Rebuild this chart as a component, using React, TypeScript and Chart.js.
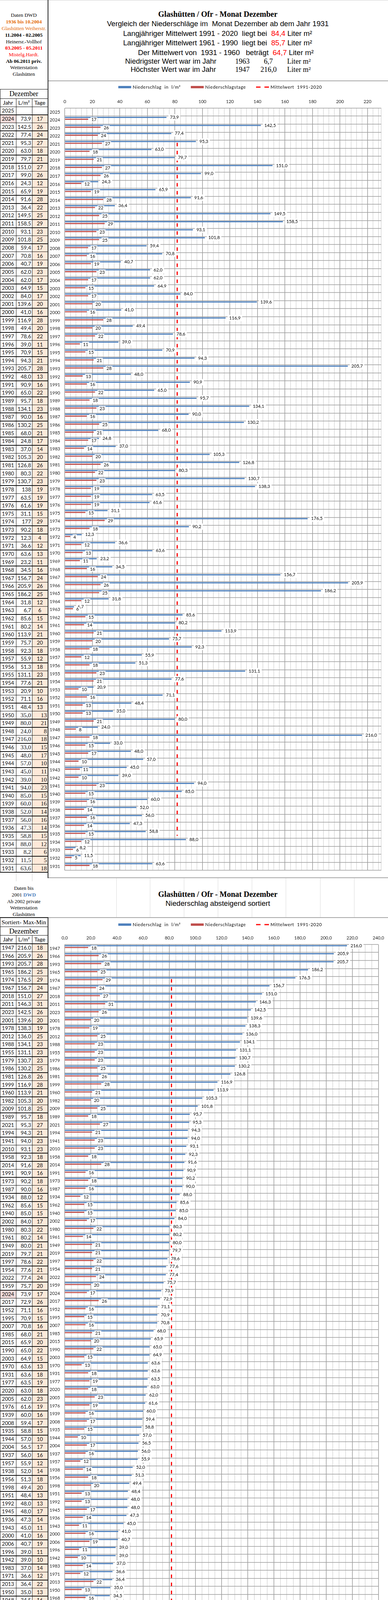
import React, { useEffect, useRef } from 'react';
import { Chart, registerables } from 'chart.js';

Chart.register(...registerables);

if (typeof document !== 'undefined') {
  document.body.style.margin = '0';
}

// ---------------- DATA ----------------
const topYears = [
  2025, 2024, 2023, 2022, 2021, 2020, 2019, 2018, 2017, 2016, 2015, 2014, 2013, 2012, 2011, 2010,
  2009, 2008, 2007, 2006, 2005, 2004, 2003, 2002, 2001, 2000, 1999, 1998, 1997, 1996, 1995, 1994,
  1993, 1992, 1991, 1990, 1989, 1988, 1987, 1986, 1985, 1984, 1983, 1982, 1981, 1980, 1979, 1978,
  1977, 1976, 1975, 1974, 1973, 1972, 1971, 1970, 1969, 1968, 1967, 1966, 1965, 1964, 1963, 1962,
  1961, 1960, 1959, 1958, 1957, 1956, 1955, 1954, 1953, 1952, 1951, 1950, 1949, 1948, 1947, 1946,
  1945, 1944, 1943, 1942, 1941, 1940, 1939, 1938, 1937, 1936, 1935, 1934, 1933, 1932, 1931,
];
const topPrecip: (number | null)[] = [
  null, 73.9, 142.5, 77.4, 95.3, 63.0, 79.7, 151.0, 99.0, 24.3, 65.9, 91.6, 36.4, 149.5, 158.5, 93.1,
  101.8, 59.4, 70.8, 40.7, 62.0, 62.0, 64.9, 84.0, 139.6, 41.0, 116.9, 49.4, 78.6, 39.0, 70.9, 94.3,
  205.7, 48.0, 90.9, 65.0, 95.7, 134.1, 90.0, 130.2, 68.0, 24.8, 37.0, 105.3, 126.8, 80.3, 130.7, 138.3,
  63.5, 61.6, 31.1, 176.5, 90.2, 12.3, 36.6, 63.6, 23.2, 34.5, 156.7, 205.9, 186.2, 31.8, 6.7, 85.6,
  80.2, 113.9, 75.7, 92.3, 55.9, 51.3, 131.1, 77.6, 20.9, 71.1, 48.4, 35.0, 80.0, 24.0, 216.0, 33.0,
  48.0, 57.0, 45.0, 39.0, 94.0, 85.0, 60.0, 52.0, 56.0, 47.3, 58.8, 88.0, 8.2, 11.5, 63.6,
];
const topDays: (number | null)[] = [
  null, 17, 26, 24, 27, 18, 21, 27, 26, 12, 19, 28, 22, 25, 29, 23,
  25, 17, 16, 19, 23, 17, 15, 17, 20, 16, 28, 20, 22, 11, 15, 21,
  28, 13, 16, 22, 18, 23, 16, 25, 21, 17, 14, 20, 26, 22, 23, 19,
  19, 19, 15, 29, 18, 4, 12, 13, 11, 16, 24, 26, 25, 12, 6, 15,
  14, 21, 20, 18, 12, 18, 23, 21, 10, 16, 13, 13, 21, 8, 18, 15,
  17, 10, 11, 10, 23, 15, 16, 14, 16, 14, 15, 12, 6, 5, 18,
];
// years whose table entry is shown rounded to whole litres
const topTableRounded = [1978, 1974];

const sortedYears = [
  1947, 1966, 1993, 1965, 1974, 1967, 2018, 2011, 2023, 2001, 1978, 2012, 1988, 1955, 1979, 1986,
  1981, 1999, 1960, 1982, 2009, 1989, 2021, 1994, 1941, 2010, 1958, 2014, 1991, 1973, 1987, 1934,
  1962, 1940, 2002, 1980, 1961, 1949, 2019, 1997, 1954, 2022, 1959, 2024, 2017, 1952, 1995, 2007,
  1985, 2015, 1990, 2003, 1970, 1931, 1977, 2020, 2005, 1976, 1939, 2008, 1935, 1944, 2004, 1937,
  1957, 1938, 1956, 1998, 1951, 1992, 1945, 1936, 1943, 2000, 2006, 1996, 1942, 1983, 1971, 2013,
  1950, 1968, 1946, 1964, 1975, 1984, 2016, 1948, 1969, 1953, 1972, 1932, 1933, 1963, 2025,
];
const sortedPrecip: (number | null)[] = [
  216.0, 205.9, 205.7, 186.2, 176.5, 156.7, 151.0, 146.3, 142.5, 139.6, 138.3, 136.0, 134.1, 131.1, 130.7, 130.2,
  126.8, 116.9, 113.9, 105.3, 101.8, 95.7, 95.3, 94.3, 94.0, 93.1, 92.3, 91.6, 90.9, 90.2, 90.0, 88.0,
  85.6, 85.0, 84.0, 80.3, 80.2, 80.0, 79.7, 78.6, 77.6, 77.4, 75.7, 73.9, 72.9, 71.1, 70.9, 70.8,
  68.0, 65.9, 65.0, 64.9, 63.6, 63.6, 63.5, 63.0, 62.0, 61.6, 60.0, 59.4, 58.8, 57.0, 56.5, 56.0,
  55.9, 52.0, 51.3, 49.4, 48.4, 48.0, 48.0, 47.3, 45.0, 41.0, 40.7, 39.0, 39.0, 37.0, 36.6, 36.4,
  35.0, 34.5, 33.0, 31.8, 31.1, 24.8, 24.3, 24.0, 23.2, 20.9, 12.3, 11.5, 8.2, 6.7, null,
];
const sortedDays: (number | null)[] = [
  18, 26, 28, 25, 29, 24, 27, 31, 26, 20, 19, 25, 23, 23, 23, 25,
  26, 28, 21, 20, 25, 18, 27, 21, 23, 23, 18, 28, 16, 18, 16, 12,
  15, 15, 17, 22, 14, 21, 21, 22, 21, 24, 20, 17, 26, 16, 15, 16,
  21, 20, 22, 15, 13, 18, 19, 18, 23, 19, 16, 17, 15, 10, 17, 16,
  12, 14, 18, 20, 13, 13, 17, 14, 11, 16, 19, 11, 10, 14, 12, 22,
  13, 16, 15, 12, 15, 17, 12, 8, 11, 10, 4, 5, 6, 6, null,
];

const meanLine = 81.7;
const topTickValues = [0, 20, 40, 60, 80, 100, 120, 140, 160, 180, 200, 220];
const sortedTickValues = [0, 20, 40, 60, 80, 100, 120, 140, 160, 180, 200, 220, 240];

const legendLabels = ['Niederschlag  in  l/m²', 'Niederschlagstage', 'Mittelwert  1991-2020'];

// ---------------- STYLE ----------------
const BLUE = '#4f81bd';
const RED = '#c0504d';
const FONT_CAL = 'Lato, "Open Sans", sans-serif';
const FONT_SERIF = '"Liberation Serif", "DejaVu Serif", serif';
const FONT_SANS = '"Liberation Sans", Arial, sans-serif';

const fmt1 = (v: number) => v.toFixed(1).replace('.', ',');

// ---------------- PLUGINS ----------------
const legendPlugin = {
  id: 'customLegend',
  afterDraw(chart: any, _args: any, opts: any) {
    const ctx = chart.ctx as CanvasRenderingContext2D;
    ctx.save();
    ctx.font = `11.5px ${FONT_CAL}`;
    (ctx as any).letterSpacing = '0.7px';
    const ds = chart.data.datasets;
    const sw = 33;
    const gap = 4;
    const itemGap = 26;
    const widths = ds.map((d: any) => sw + gap + ctx.measureText(d.label).width);
    const total = widths.reduce((a: number, b: number) => a + b, 0) + itemGap * (ds.length - 1);
    let x = opts.centerX - total / 2;
    const y = opts.y;
    ds.forEach((d: any, i: number) => {
      if (d.type === 'line') {
        ctx.strokeStyle = d.borderColor;
        ctx.lineWidth = 3;
        ctx.setLineDash([11.5, 10]);
        ctx.beginPath();
        ctx.moveTo(x, y);
        ctx.lineTo(x + sw, y);
        ctx.stroke();
        ctx.setLineDash([]);
      } else {
        ctx.fillStyle = d.backgroundColor;
        ctx.fillRect(x, y - 3, sw, 6);
      }
      ctx.fillStyle = '#000';
      ctx.textBaseline = 'middle';
      ctx.textAlign = 'left';
      ctx.fillText(d.label, x + sw + gap, y + 0.5);
      x += widths[i] + itemGap;
    });
    ctx.restore();
  },
};

const valueLabelsPlugin = {
  id: 'valueLabels',
  afterDatasetsDraw(chart: any) {
    const ctx = chart.ctx as CanvasRenderingContext2D;
    ctx.save();
    ctx.font = `11.5px ${FONT_CAL}`;
    ctx.textBaseline = 'middle';
    ctx.textAlign = 'left';
    [0, 1].forEach((di) => {
      const meta = chart.getDatasetMeta(di);
      const data = chart.data.datasets[di].data;
      meta.data.forEach((el: any, i: number) => {
        const v = data[i];
        if (v == null) return;
        const text = di === 0 ? fmt1(v) : String(v);
        const w = ctx.measureText(text).width;
        const x = el.x + (di === 0 ? 9 : 8);
        const y = el.y + (di === 0 ? 0 : 1.5);
        ctx.fillStyle = '#fff';
        if (di === 0) ctx.fillRect(x - 4, y - 8, w + 8, 16);
        else ctx.fillRect(x - 2, y - 6.5, w + 4, 13);
        ctx.fillStyle = '#000';
        ctx.fillText(text, x, y);
      });
    });
    ctx.restore();
  },
};

// ---------------- CHART ----------------
interface Spec {
  years: number[];
  precip: (number | null)[];
  days: (number | null)[];
  max: number;
  minor: number;
  majorTicks: number[];
  tickFmt: (v: number) => string;
  yWidth: number;
  padding: { top: number; right: number; bottom: number; left: number };
  legendY: number;
  legendCX: number;
}

function BarChart({ spec, left, top, width, height }: { spec: Spec; left: number; top: number; width: number; height: number }) {
  const ref = useRef<HTMLCanvasElement>(null);
  useEffect(() => {
    const fontTick = { family: FONT_CAL, size: 11.5 };
    const chart = new Chart(ref.current as HTMLCanvasElement, {
      type: 'bar',
      data: {
        labels: spec.years.map(String),
        datasets: [
          {
            label: legendLabels[0],
            data: spec.precip,
            backgroundColor: BLUE,
            borderWidth: 0,
            barPercentage: 0.65,
            categoryPercentage: 0.9,
            xAxisID: 'x',
            yAxisID: 'y',
          } as any,
          {
            label: legendLabels[1],
            data: spec.days,
            backgroundColor: RED,
            borderWidth: 0,
            barPercentage: 0.62,
            categoryPercentage: 0.9,
            xAxisID: 'x',
            yAxisID: 'y',
          } as any,
          {
            type: 'line',
            label: legendLabels[2],
            data: [
              { x: meanLine, y: 1 },
              { x: meanLine, y: 0 },
            ],
            borderColor: '#ff0000',
            backgroundColor: '#ff0000',
            borderWidth: 3,
            borderDash: [9, 11.6],
            pointRadius: 0,
            fill: false,
            tension: 0,
            xAxisID: 'x',
            yAxisID: 'y2',
            order: -1,
          } as any,
        ],
      },
      options: {
        indexAxis: 'y',
        animation: false,
        responsive: true,
        maintainAspectRatio: false,
        events: [],
        layout: { padding: spec.padding },
        plugins: {
          legend: { display: false },
          tooltip: { enabled: false },
          customLegend: { y: spec.legendY, centerX: spec.legendCX },
        } as any,
        scales: {
          x: {
            type: 'linear',
            position: 'top',
            min: 0,
            max: spec.max,
            afterBuildTicks: (s: any) => {
              const t: { value: number }[] = [];
              for (let v = 0; v < spec.max; v += spec.minor) t.push({ value: v });
              t.push({ value: spec.max });
              s.ticks = t;
            },
            afterFit: (s: any) => {
              s.height = 24;
            },
            ticks: {
              autoSkip: false,
              maxRotation: 0,
              minRotation: 0,
              padding: 10,
              color: '#1a1a1a',
              font: fontTick,
              callback: (v: any) => (spec.majorTicks.includes(Number(v)) ? spec.tickFmt(Number(v)) : ''),
            },
            grid: {
              drawTicks: false,
              color: (c: any) => (c.tick && spec.majorTicks.includes(c.tick.value) ? '#8a8a8a' : '#c6c6c6'),
              lineWidth: (c: any) => (c.tick && spec.majorTicks.includes(c.tick.value) ? 1.3 : 1),
            },
            border: { display: false },
          },
          y: {
            type: 'category',
            afterFit: (s: any) => {
              s.width = spec.yWidth;
            },
            ticks: {
              autoSkip: false,
              padding: 12,
              color: '#1a1a1a',
              font: fontTick,
            },
            grid: {
              offset: true,
              drawTicks: false,
              color: '#9c9c9c',
              lineWidth: 1.5,
            },
            border: { display: false },
          },
          y2: {
            type: 'linear',
            axis: 'y',
            display: false,
            min: 0,
            max: 1,
          },
        } as any,
      },
      plugins: [legendPlugin as any, valueLabelsPlugin as any],
    });
    return () => chart.destroy();
  }, [spec]);
  return (
    <div style={{ position: 'absolute', left, top, width, height }}>
      <canvas ref={ref} />
    </div>
  );
}

// ---------------- TEXT HELPERS ----------------
function T({
  x,
  y,
  size,
  family,
  color = '#000',
  weight = 'normal',
  children,
}: {
  x: number;
  y: number;
  size: number;
  family: string;
  color?: string;
  weight?: string;
  children: React.ReactNode;
}) {
  return (
    <div
      style={{
        position: 'absolute',
        left: x,
        top: y,
        transform: 'translate(-50%,-50%)',
        whiteSpace: 'pre',
        fontFamily: family,
        fontSize: size,
        fontWeight: weight as any,
        color,
        lineHeight: 1.1,
      }}
    >
      {children}
    </div>
  );
}

function Line({ x, y, w, h, c }: { x: number; y: number; w: number; h: number; c: string }) {
  return <div style={{ position: 'absolute', left: x, top: y, width: w, height: h, background: c }} />;
}

function DataTable({
  years,
  precip,
  days,
  rowStart,
  rowH,
  serifFrom,
  rounded,
}: {
  years: number[];
  precip: (number | null)[];
  days: (number | null)[];
  rowStart: number;
  rowH: number;
  serifFrom?: number;
  rounded: number[];
}) {
  const els: React.ReactNode[] = [];
  years.forEach((yr, i) => {
    const top = rowStart + i * rowH;
    const v = precip[i];
    const d = days[i];
    const serif = serifFrom !== undefined && yr <= serifFrom;
    const valText = v == null ? '' : rounded.includes(yr) ? String(Math.round(v)) : fmt1(v);
    const base: React.CSSProperties = {
      position: 'absolute',
      top,
      height: rowH,
      lineHeight: `${rowH}px`,
      whiteSpace: 'nowrap',
      color: '#111',
    };
    els.push(
      <div
        key={'y' + i}
        style={{
          ...base,
          left: 0,
          width: 41,
          textAlign: 'center',
          fontFamily: FONT_CAL,
          fontSize: 13.5,
          background: yr === 2024 ? '#f2dcdb' : undefined,
        }}
      >
        {yr}
      </div>
    );
    els.push(
      <div
        key={'v' + i}
        style={{
          ...base,
          left: 41,
          width: 38.5,
          textAlign: 'right',
          fontFamily: serif ? FONT_SERIF : FONT_CAL,
          fontSize: serif ? 15.5 : 13.5,
        }}
      >
        {valText}
      </div>
    );
    els.push(
      <div
        key={'d' + i}
        style={{
          ...base,
          left: 82,
          width: serif ? 38 : 40,
          paddingRight: serif ? 2 : 0,
          textAlign: serif ? 'right' : 'center',
          fontFamily: serif ? FONT_SERIF : FONT_CAL,
          fontSize: serif ? 15.5 : 13.5,
          background: d == null ? undefined : '#fde9d9',
        }}
      >
        {d == null ? '' : String(d)}
      </div>
    );
  });
  const n = years.length;
  for (let k = 0; k <= n; k++) {
    els.push(<Line key={'h' + k} x={0} y={rowStart + k * rowH - 0.75} w={122} h={1.6} c="#111" />);
  }
  return <>{els}</>;
}

// ---------------- SPECS ----------------
const topSpec: Spec = {
  years: topYears,
  precip: topPrecip,
  days: topDays,
  max: 230,
  minor: 4,
  majorTicks: topTickValues,
  tickFmt: (v) => String(v),
  yWidth: 43,
  padding: { top: 45.7, right: 17.3, bottom: 14, left: 0 },
  legendY: 16,
  legendCX: 441,
};

const sortedSpec: Spec = {
  years: sortedYears,
  precip: sortedPrecip,
  days: sortedDays,
  max: 240,
  minor: 5,
  majorTicks: sortedTickValues,
  tickFmt: (v) => v.toFixed(1).replace('.', ','),
  yWidth: 42.7,
  padding: { top: 44.7, right: 19, bottom: 13, left: 0 },
  legendY: 18,
  legendCX: 441,
};

const TOP_ROW_START = 273.3;
const TOP_ROW_H = 20.63;
const BOT_ROW_START = 2416;
const BOT_ROW_H = 20.62;

const faintCols = [298, 384, 471, 558, 645, 732, 820, 907];

export default function App() {
  const topRowsEnd = TOP_ROW_START + topYears.length * TOP_ROW_H;
  const botRowsEnd = BOT_ROW_START + sortedYears.length * BOT_ROW_H;
  return (
    <div style={{ position: 'relative', width: 994, height: 4397, overflow: 'hidden', background: '#fff' }}>
      {/* faint sheet grid lines in gaps */}
      {faintCols.map((x) => (
        <Line key={'g1' + x} x={x} y={2248} w={1} h={100} c="#dadada" />
      ))}
      {faintCols.map((x) => (
        <Line key={'g2' + x} x={x} y={4389} w={1} h={8} c="#dadada" />
      ))}
      {[41, 82].map((x) => (
        <Line key={'g3' + x} x={x} y={2234} w={1} h={22} c="#d0d0d0" />
      ))}
      {[41, 82, 122].map((x) => (
        <Line key={'g4' + x} x={x} y={4389} w={1} h={8} c="#d0d0d0" />
      ))}
      <Line x={0} y={0} w={994} h={1} c="#cfcfcf" />

      {/* ---------- top left panel ---------- */}
      <T x={61} y={39} size={13.2} family={FONT_SERIF}>Daten DWD</T>
      <T x={61} y={56} size={13.2} family={FONT_SERIF} color="#e46c0a" weight="bold">1936 bis 10.2004</T>
      <T x={61} y={73} size={13.2} family={FONT_SERIF} color="#e46c0a">Glashütten Weiherstr.</T>
      <T x={61} y={90} size={13.2} family={FONT_SERIF} weight="bold">11.2004 - 02.2005</T>
      <T x={61} y={107} size={13.2} family={FONT_SERIF}>Heinersr.-Vollhof</T>
      <T x={61} y={123} size={13.2} family={FONT_SERIF} color="#ff0000" weight="bold">03.2005 - 05.2011</T>
      <T x={61} y={140} size={13.2} family={FONT_SERIF} color="#ff0000">Mistelg.Hardt.</T>
      <T x={61} y={157} size={13.2} family={FONT_SERIF} weight="bold">Ab 06.2011 priv.</T>
      <T x={61} y={173} size={13.2} family={FONT_SERIF}>Wetterstation</T>
      <T x={61} y={190} size={13.2} family={FONT_SERIF}>Glashütten</T>

      {/* ---------- top titles ---------- */}
      <T x={558} y={36} size={20} family={FONT_SERIF} weight="bold">Glashütten / Ofr - Monat Dezember</T>
      <T x={558} y={61} size={18.7} family={FONT_SANS}>Vergleich der Niederschläge im  Monat Dezember ab dem Jahr 1931</T>
      <T x={557.5} y={86} size={18.7} family={FONT_SANS}>
        {'Langjähriger Mittelwert 1991 - 2020  liegt bei  '}
        <span style={{ color: '#ff0000' }}>84,4</span>
        {' Liter m²'}
      </T>
      <T x={557.5} y={110} size={18.7} family={FONT_SANS}>
        {'Langjähriger Mittelwert 1961 - 1990  liegt bei  '}
        <span style={{ color: '#ff0000' }}>85,7</span>
        {' Liter m²'}
      </T>
      <T x={578.5} y={135} size={18.7} family={FONT_SANS}>
        {'Der Mittelwert von  1931 - 1960   beträgt  '}
        <span style={{ color: '#ff0000' }}>64,7</span>
        {' Liter m²'}
      </T>
      <T x={437.5} y={157} size={18.5} family={FONT_SANS}>Niedrigster Wert war im Jahr</T>
      <T x={621} y={157} size={18.5} family={FONT_SERIF}>1963</T>
      <T x={687.5} y={157} size={18.5} family={FONT_SERIF}>6,7</T>
      <T x={765.7} y={157} size={18.5} family={FONT_SERIF}>Liter m²</T>
      <T x={444} y={178} size={18.5} family={FONT_SANS}>Höchster Wert war im Jahr</T>
      <T x={621} y={178} size={18.5} family={FONT_SERIF}>1947</T>
      <T x={688} y={178} size={18.5} family={FONT_SERIF}>216,0</T>
      <T x={765.7} y={178} size={18.5} family={FONT_SERIF}>Liter m²</T>

      {/* ---------- top table ---------- */}
      <Line x={0} y={227.5} w={122} h={1.6} c="#111" />
      <T x={61} y={240.5} size={18} family={FONT_SERIF}>Dezember</T>
      <Line x={0} y={251.5} w={122} h={1.6} c="#111" />
      <T x={20.5} y={263} size={14} family={FONT_CAL}>Jahr</T>
      <T x={61.5} y={263} size={14} family={FONT_CAL}>L/m²</T>
      <T x={102} y={263} size={14} family={FONT_CAL}>Tage</T>
      <DataTable
        years={topYears}
        precip={topPrecip}
        days={topDays}
        rowStart={TOP_ROW_START}
        rowH={TOP_ROW_H}
        serifFrom={1950}
        rounded={topTableRounded}
      />
      <Line x={40.5} y={252} w={1} h={topRowsEnd - 252} c="#111" />
      <Line x={81.5} y={252} w={1} h={topRowsEnd - 252} c="#111" />
      <Line x={0} y={228} w={1.2} h={topRowsEnd - 228} c="#111" />

      {/* ---------- top chart ---------- */}
      <Line x={123} y={206} w={871} h={2} c="#a6a6a6" />
      <BarChart spec={topSpec} left={123} top={207} width={871} height={2040} />
      <Line x={122} y={2246} w={872} h={2} c="#a6a6a6" />
      <Line x={121.5} y={0} w={2} h={2248} c="#222" />

      {/* ---------- bottom left panel ---------- */}
      <T x={61} y={2274} size={13.2} family={FONT_SERIF}>Daten bis</T>
      <T x={61} y={2291} size={13.2} family={FONT_SERIF}>
        {'2001 '}
        <span style={{ color: '#4f81bd', fontWeight: 'bold' }}>DWD</span>
      </T>
      <T x={61} y={2308} size={13.2} family={FONT_SERIF}>Ab 2002 private</T>
      <T x={61} y={2324} size={13.2} family={FONT_SERIF}>Wetterstation</T>
      <T x={61} y={2341} size={13.2} family={FONT_SERIF}>Glashütten</T>

      {/* ---------- bottom titles ---------- */}
      <T x={558} y={2289} size={20} family={FONT_SERIF} weight="bold">Glashütten / Ofr - Monat Dezember</T>
      <T x={558} y={2313} size={18.7} family={FONT_SANS}>Niederschlag absteigend sortiert</T>

      {/* ---------- bottom table ---------- */}
      <Line x={0} y={2348} w={122} h={1.6} c="#111" />
      <T x={61} y={2361} size={15.4} family={FONT_SERIF}>Sortiert- Max-Min</T>
      <Line x={0} y={2371.5} w={122} h={1.6} c="#111" />
      <T x={61} y={2383.5} size={18.3} family={FONT_SERIF}>Dezember</T>
      <Line x={0} y={2393.5} w={122} h={1.6} c="#111" />
      <T x={20.5} y={2405} size={14} family={FONT_CAL}>Jahr</T>
      <T x={61.5} y={2405} size={14} family={FONT_CAL}>L/m²</T>
      <T x={102} y={2405} size={14} family={FONT_CAL}>Tage</T>
      <DataTable
        years={sortedYears}
        precip={sortedPrecip}
        days={sortedDays}
        rowStart={BOT_ROW_START}
        rowH={BOT_ROW_H}
        rounded={[]}
      />
      <Line x={40.5} y={2394} w={1} h={botRowsEnd - 2394} c="#111" />
      <Line x={81.5} y={2394} w={1} h={botRowsEnd - 2394} c="#111" />
      <Line x={0} y={2348} w={1.2} h={botRowsEnd - 2348} c="#111" />

      {/* ---------- bottom chart ---------- */}
      <Line x={123} y={2348} w={871} h={2} c="#a6a6a6" />
      <BarChart spec={sortedSpec} left={123} top={2349} width={871} height={2039} />
      <Line x={122} y={4387} w={872} h={2} c="#a6a6a6" />
      <Line x={121.5} y={2348} w={2} h={2041} c="#222" />
    </div>
  );
}
